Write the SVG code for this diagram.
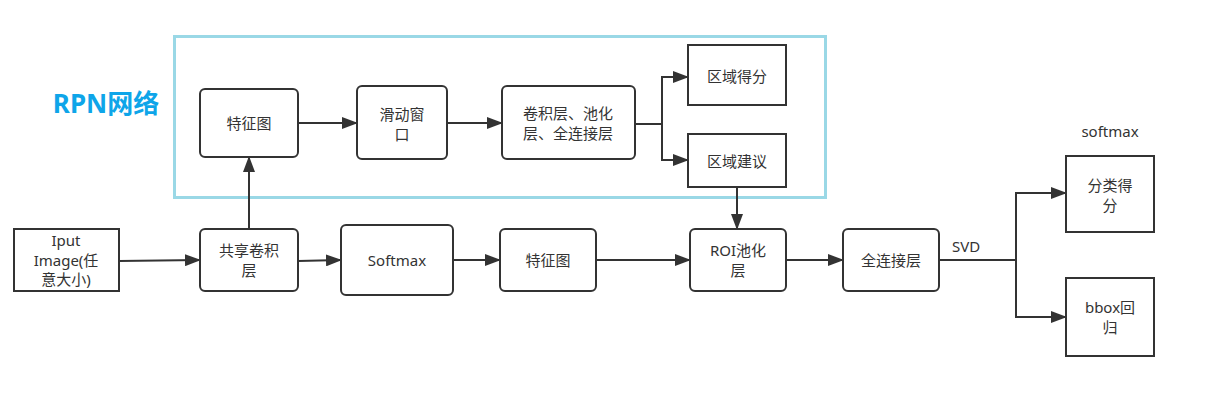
<svg xmlns="http://www.w3.org/2000/svg" width="1208" height="400" viewBox="0 0 1208 400">
<style>
.box{fill:#fff;stroke:#333;stroke-width:2}
.t{font-family:"Noto Sans","Noto Sans CJK SC",sans-serif;font-size:15px;fill:#333;text-anchor:middle;dominant-baseline:central}
.c{fill:none;stroke:#333;stroke-width:2}
</style>
<defs>
<marker id="ah" markerUnits="userSpaceOnUse" markerWidth="16" markerHeight="12" refX="15" refY="6" orient="auto">
<path d="M0,0 L16,6 L0,12 Z" fill="#333"/>
</marker>
</defs>
<rect width="1208" height="400" fill="#fff"/>
<rect id="rpn" x="174.5" y="36.5" width="651" height="161" fill="none" stroke="#9ad8e6" stroke-width="3"/>
<text x="106" y="103" style="font-family:'Noto Sans','Noto Sans CJK SC',sans-serif;font-size:26px;font-weight:bold;fill:#0ea5e9;text-anchor:middle;dominant-baseline:central">RPN网络</text>
<g id="connectors">
<path class="c" d="M119,261 L200,260" marker-end="url(#ah)"/>
<path class="c" d="M249,229 L249,157" marker-end="url(#ah)"/>
<path class="c" d="M298,261 L341,260" marker-end="url(#ah)"/>
<path class="c" d="M453,260 L500,260" marker-end="url(#ah)"/>
<path class="c" d="M596,260 L690,260" marker-end="url(#ah)"/>
<path class="c" d="M786,260 L843,260" marker-end="url(#ah)"/>
<path class="c" d="M298,123 L357,123" marker-end="url(#ah)"/>
<path class="c" d="M447,123 L502,123" marker-end="url(#ah)"/>
<path class="c" d="M635,124 L662,124"/>
<path class="c" d="M662,124 L662,77 L688,77" marker-end="url(#ah)"/>
<path class="c" d="M662,124 L662,160 L688,160" marker-end="url(#ah)"/>
<path class="c" d="M737,187 L737,229" marker-end="url(#ah)"/>
<path class="c" d="M939,260 L1016,260"/>
<path class="c" d="M1016,260 L1016,193 L1066,193" marker-end="url(#ah)"/>
<path class="c" d="M1016,260 L1016,317 L1066,317" marker-end="url(#ah)"/>
<text class="t" x="966" y="246">SVD</text>
</g>
<g id="fm1"><rect class="box" x="200" y="89" width="98" height="68" rx="5"/><text class="t" x="249" y="123">特征图</text></g>
<g id="slide"><rect class="box" x="357" y="86" width="90" height="73" rx="5"/><text class="t" x="402" y="114">滑动窗</text><text class="t" x="402" y="134">口</text></g>
<g id="conv"><rect class="box" x="502" y="86" width="133" height="73" rx="5"/><text class="t" x="568" y="113">卷积层、池化</text><text class="t" x="568" y="133">层、全连接层</text></g>
<g id="score"><rect class="box" x="688" y="45" width="98" height="60"/><text class="t" x="737" y="76">区域得分</text></g>
<g id="prop"><rect class="box" x="688" y="134" width="98" height="53"/><text class="t" x="737" y="161">区域建议</text></g>
<g id="input"><rect class="box" x="14" y="229" width="105" height="62"/><text class="t" x="66" y="240">Iput</text><text class="t" x="66" y="260">Image(任</text><text class="t" x="66" y="279">意大小)</text></g>
<g id="shared"><rect class="box" x="200" y="229" width="98" height="62" rx="5"/><text class="t" x="249" y="250">共享卷积</text><text class="t" x="249" y="270">层</text></g>
<g id="softmax"><rect class="box" x="341" y="225" width="112" height="70" rx="5"/><text class="t" x="397" y="260">Softmax</text></g>
<g id="fm2"><rect class="box" x="500" y="229" width="96" height="62" rx="5"/><text class="t" x="548" y="260">特征图</text></g>
<g id="roi"><rect class="box" x="690" y="229" width="96" height="62" rx="5"/><text class="t" x="738" y="250">ROI池化</text><text class="t" x="738" y="270">层</text></g>
<g id="fc"><rect class="box" x="843" y="229" width="96" height="62" rx="5"/><text class="t" x="891" y="260">全连接层</text></g>
<g id="cls"><rect class="box" x="1066" y="156" width="88" height="76"/><text class="t" x="1110" y="185">分类得</text><text class="t" x="1110" y="205">分</text></g>
<text class="t" x="1110" y="131">softmax</text>
<g id="bbox"><rect class="box" x="1066" y="278" width="88" height="78"/><text class="t" x="1110" y="307">bbox回</text><text class="t" x="1110" y="327">归</text></g>
</svg>
